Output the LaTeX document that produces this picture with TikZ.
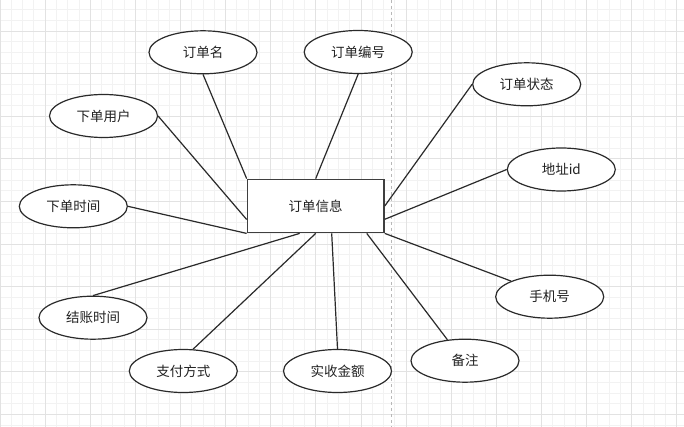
\documentclass[tikz,border=0pt]{standalone}
\usepackage{fontspec}
\newfontfamily\cjk{Noto Sans CJK SC}
\usetikzlibrary{shapes.geometric}
\definecolor{gridminor}{HTML}{F2F2F2}
\definecolor{gridmajor}{HTML}{E2E2E2}
\definecolor{ink}{HTML}{222222}
\definecolor{edgecol}{HTML}{2A2A2A}
\tikzset{
  attr/.style={ellipse, draw=edgecol, line width=1.2pt, fill=white, minimum width=108pt, minimum height=43pt, inner sep=0pt, font=\cjk\fontsize{13.5}{16}\selectfont, text=ink},
  entity/.style={rectangle, draw=edgecol!90!white, line width=1.4pt, fill=white, minimum width=136.7pt, minimum height=53.4pt, inner sep=0pt, font=\cjk\fontsize{13.5}{16}\selectfont, text=ink},
  link/.style={draw=edgecol, line width=1.2pt},
  gminor/.style={draw=gridminor, line width=0.8pt},
  gmajor/.style={draw=gridmajor, line width=0.9pt},
  pagesplit/.style={draw=black!28, line width=0.8pt, dash pattern=on 3pt off 3pt}
}
\begin{document}
\begin{tikzpicture}[x=1pt,y=-1pt]
\useasboundingbox (0,0) rectangle (684,427);
\fill[white] (0,0) rectangle (684,427);
% grid
\foreach \i in {0,...,61} \draw[gminor] ({\i*11.28},0) -- ({\i*11.28},427);
\foreach \j in {0,...,40} \draw[gminor] (0,{9.7+\j*10.65}) -- (684,{9.7+\j*10.65});
\foreach \i in {0,...,15} \draw[gmajor] ({\i*45.12},0) -- ({\i*45.12},427);
\foreach \j in {0,...,9} \draw[gmajor] (0,{31+\j*42.6}) -- (684,{31+\j*42.6});
\draw[pagesplit] (391.5,0) -- (391.5,427);
% nodes
\node[entity] (main) at (315.7,206) {订单信息};
\node[attr] (name) at (203,52.3) {订单名};
\node[attr] (num) at (358.2,52) {订单编号};
\node[attr] (state) at (526.7,84.3) {订单状态};
\node[attr] (addr) at (561.3,169.5) {地址id};
\node[attr] (user) at (103.5,116) {下单用户};
\node[attr] (otime) at (73.3,206.3) {下单时间};
\node[attr] (ptime) at (93,317.7) {结账时间};
\node[attr] (pay) at (183.3,371) {支付方式};
\node[attr] (amount) at (337.5,371) {实收金额};
\node[attr] (note) at (465,360.7) {备注};
\node[attr] (phone) at (549.7,296.7) {手机号};
% connectors
\draw[link] (name.south) -- (main.north west);
\draw[link] (num.south) -- (main.north);
\draw[link] (state.west) -- (main.east);
\draw[link] (addr.west) -- ([yshift=-13.3pt]main.east);
\draw[link] (user.east) -- ([yshift=-13.5pt]main.west);
\draw[link] (otime.east) -- (main.south west);
\draw[link] (ptime.north) -- ([xshift=53pt]main.south west);
\draw[link] (pay.66) -- (main.south);
\draw[link] (amount.north) -- ([xshift=16pt]main.south);
\draw[link] (note.130) -- ([xshift=-18pt]main.south east);
\draw[link] (phone.158) -- (main.south east);
\end{tikzpicture}
\end{document}
